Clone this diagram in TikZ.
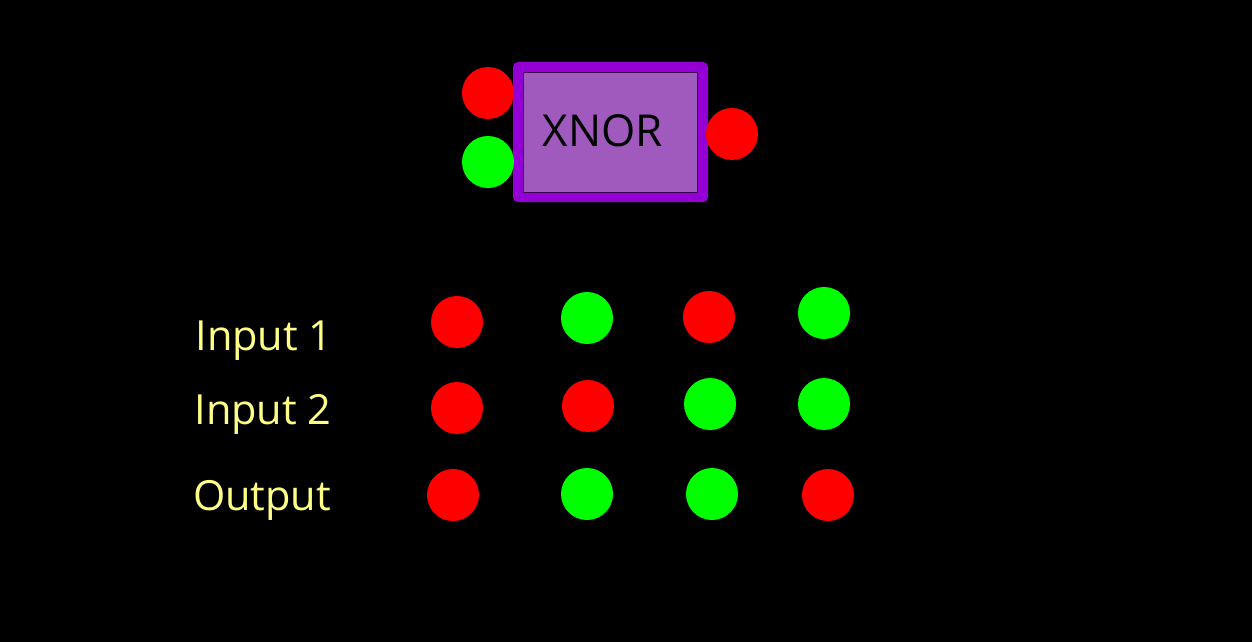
\documentclass[tikz,border=0pt]{standalone}
\usepackage{fontspec}
\setmainfont{Open Sans}
\definecolor{bred}{HTML}{FF0000}
\definecolor{bgreen}{HTML}{00FF00}
\definecolor{gateouter}{HTML}{9400D3}
\definecolor{gateinner}{HTML}{A05ABE}
\definecolor{labelyellow}{HTML}{FFFF88}
\tikzset{
  redball/.style={circle, fill=bred, inner sep=0pt, minimum size=52pt},
  greenball/.style={circle, fill=bgreen, inner sep=0pt, minimum size=52pt},
  rowlabel/.style={text=labelyellow, font=\fontsize{41.5}{46}\selectfont, inner sep=0pt, anchor=base},
}
\begin{document}
\begin{tikzpicture}[x=1pt,y=-1pt]
\useasboundingbox[fill=black] (0,0) rectangle (1252,642);
% gate
\node (gate) [draw=none, fill=gateouter, rounded corners=5pt, minimum width=195pt, minimum height=140pt, inner sep=0pt] at (610.5,132) {};
\node (gatein) [draw=black!60!gateouter, line width=0.8pt, fill=gateinner, minimum width=174pt, minimum height=120pt, inner sep=0pt] at (610,132) {};
\node (gatetext) [font=\fontsize{44}{48}\selectfont, text=black, inner sep=0pt] at (603,131) {XNOR};
\node (in1) [redball] at (488,93) {};
\node (in2) [greenball] at (488,162) {};
\node (out) [redball] at (732,134) {};
% labels
\node (l1) [rowlabel] at (264,350) {Input 1};
\node (l2) [rowlabel] at (263,424) {Input 2};
\node (l3) [rowlabel] at (262,510) {Output};
% row 1
\node (a1) [redball] at (457,322) {};
\node (a2) [greenball] at (587,318) {};
\node (a3) [redball] at (709,317) {};
\node (a4) [greenball] at (824,313) {};
% row 2
\node (b1) [redball] at (457,408) {};
\node (b2) [redball] at (588,406) {};
\node (b3) [greenball] at (710,404) {};
\node (b4) [greenball] at (824,404) {};
% row 3
\node (c1) [redball] at (453,495) {};
\node (c2) [greenball] at (587,494) {};
\node (c3) [greenball] at (712,494) {};
\node (c4) [redball] at (828,495) {};
\end{tikzpicture}
\end{document}
